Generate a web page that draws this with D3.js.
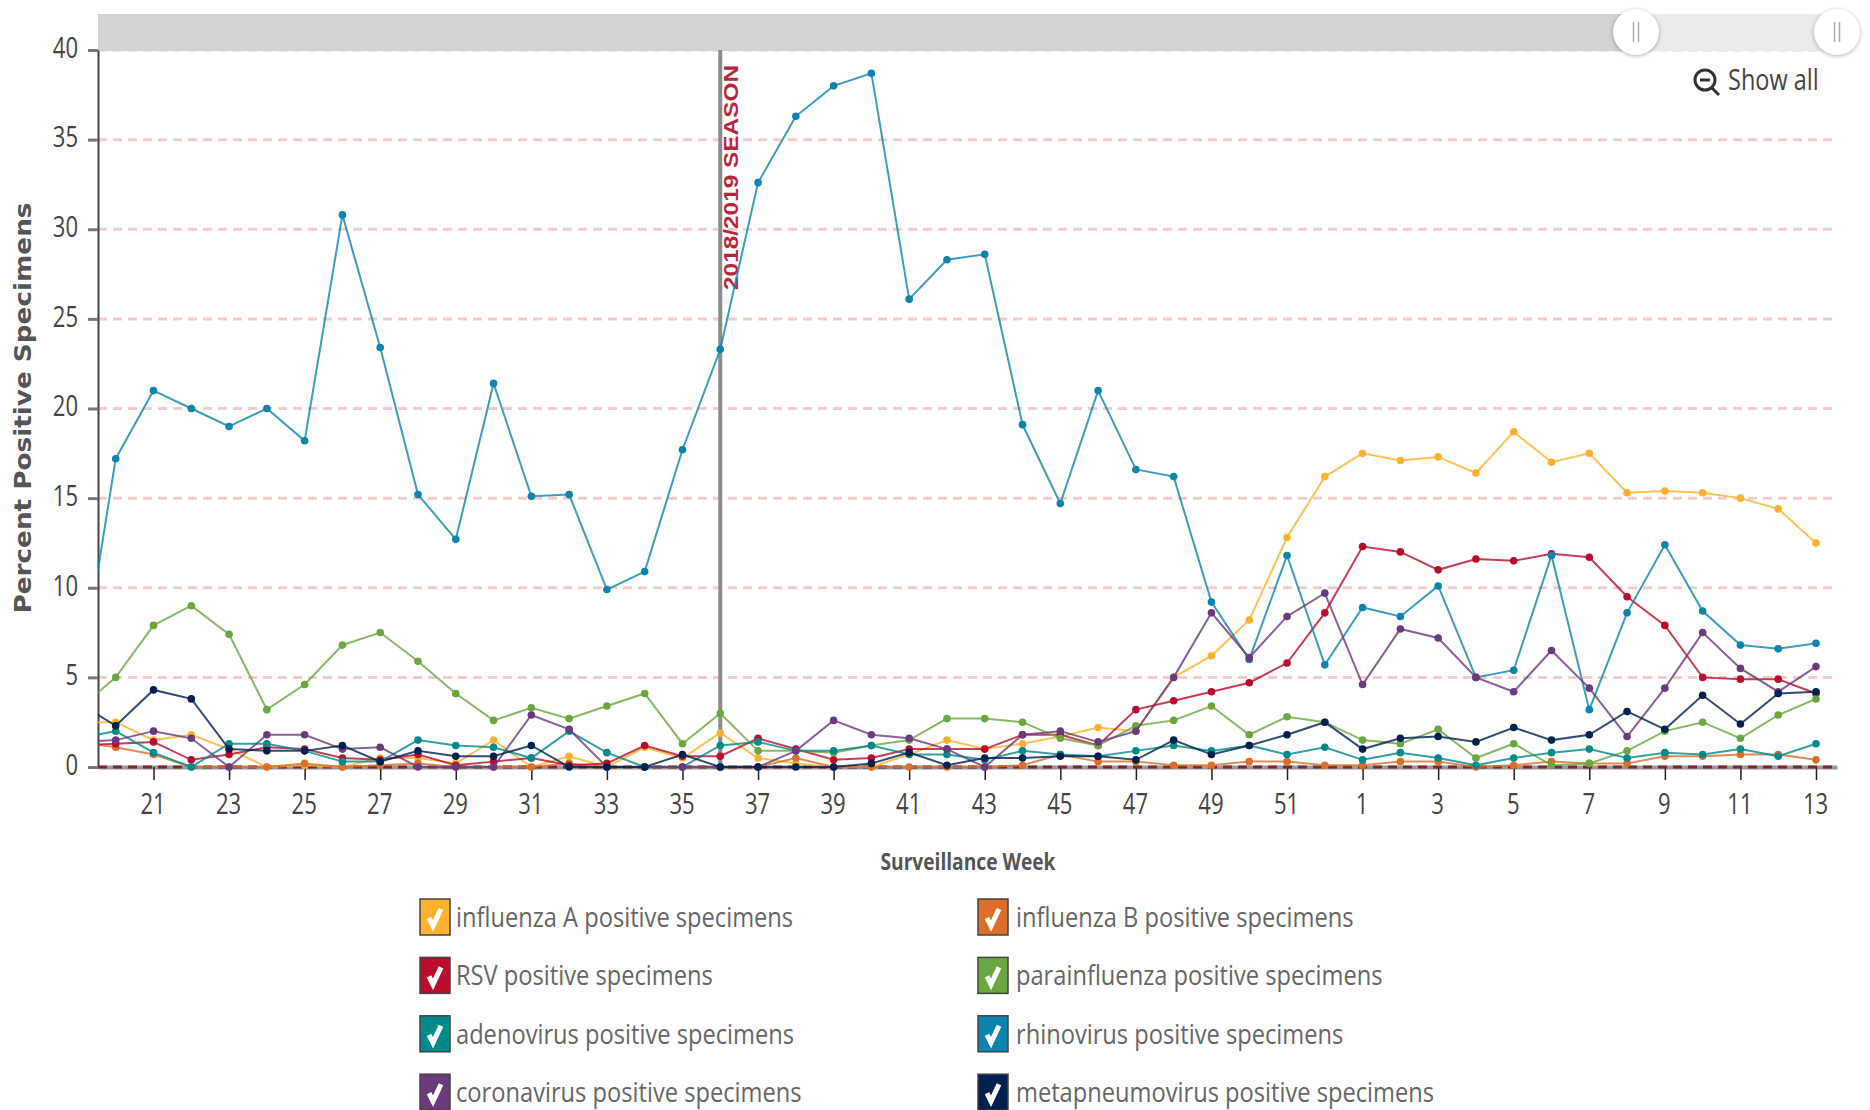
<!DOCTYPE html>
<html lang="en">

<head>
    <meta charset="UTF-8">
    <title>Percent Positive Specimens by Surveillance Week</title>
    <script src="https://d3js.org/d3.v7.min.js"></script>
    <style>
        body {
            margin: 0;
            background: white;
            font-family: "Open Sans", sans-serif;
        }

        svg {
            display: block;
        }

        .axis text {
            font-family: "Open Sans", sans-serif;
            font-size: 29px;
            fill: #444;
        }

        .series path {
            fill: none;
            stroke-width: 2px;
            stroke-opacity: 0.8;
        }

        .handle {
            filter: drop-shadow(0 1px 2px rgba(0, 0, 0, 0.3));
        }
    </style>
</head>

<body>
    <div id="chart"></div>
    <script>
        // Weeks from 19 of one year to 13 of the next
        var weeks = [19, 20, 21, 22, 23, 24, 25, 26, 27, 28, 29, 30, 31, 32, 33, 34, 35, 36, 37, 38, 39, 40, 41, 42, 43, 44, 45, 46, 47, 48, 49, 50, 51, 52, 1, 2, 3, 4, 5, 6, 7, 8, 9, 10, 11, 12, 13];
        var yTicks = [0, 5, 10, 15, 20, 25, 30, 35, 40];

        var influenzaA = [2.5, 2.5, 1.5, 1.8, 1.0, 0, 0.1, 0, 0.5, 0.5, 0.2, 1.5, 0, 0.6, 0, 1.1, 0.5, 1.9, 0.5, 0.2, 0, 0, 0.7, 1.5, 1.0, 1.3, 1.7, 2.2, 2.0, 5.0, 6.2, 8.2, 12.8, 16.2, 17.5, 17.1, 17.3, 16.4, 18.7, 17.0, 17.5, 15.3, 15.4, 15.3, 15.0, 14.4, 12.5];
        var influenzaB = [1.4, 1.1, 0.7, 0, 0, 0, 0.2, 0, 0.1, 0.2, 0, 0, 0, 0.2, 0, 0, 0, 0, 0, 0.5, 0, 0, 0, 0, 0, 0.1, 0.7, 0.3, 0.3, 0.1, 0.1, 0.3, 0.3, 0.1, 0.1, 0.3, 0.3, 0, 0.1, 0.3, 0.2, 0.2, 0.6, 0.6, 0.7, 0.7, 0.4];
        var rsv = [1.2, 1.3, 1.4, 0.4, 0.7, 1.1, 1.0, 0.5, 0.4, 0.7, 0.1, 0.3, 0.5, 0.1, 0.2, 1.2, 0.6, 0.6, 1.6, 1.0, 0.4, 0.5, 1.0, 1.0, 1.0, 1.8, 1.8, 1.2, 3.2, 3.7, 4.2, 4.7, 5.8, 8.6, 12.3, 12.0, 11.0, 11.6, 11.5, 11.9, 11.7, 9.5, 7.9, 5.0, 4.9, 4.9, 4.1];
        var parainfluenza = [3.2, 5.0, 7.9, 9.0, 7.4, 3.2, 4.6, 6.8, 7.5, 5.9, 4.1, 2.6, 3.3, 2.7, 3.4, 4.1, 1.3, 3.0, 0.9, 0.9, 0.8, 1.2, 1.5, 2.7, 2.7, 2.5, 1.6, 1.2, 2.3, 2.6, 3.4, 1.8, 2.8, 2.5, 1.5, 1.3, 2.1, 0.5, 1.3, 0.1, 0.2, 0.9, 2.0, 2.5, 1.6, 2.9, 3.8];
        var adenovirus = [1.6, 2.0, 0.8, 0, 1.3, 1.3, 0.9, 0.3, 0.3, 1.5, 1.2, 1.1, 0.5, 2.0, 0.8, 0, 0, 1.2, 1.4, 0.9, 0.9, 1.2, 0.7, 0.7, 0.4, 0.9, 0.7, 0.6, 0.9, 1.2, 0.9, 1.2, 0.7, 1.1, 0.4, 0.8, 0.5, 0.1, 0.5, 0.8, 1.0, 0.5, 0.8, 0.7, 1.0, 0.6, 1.3];
        var rhinovirus = [4.0, 17.2, 21.0, 20.0, 19.0, 20.0, 18.2, 30.8, 23.4, 15.2, 12.7, 21.4, 15.1, 15.2, 9.9, 10.9, 17.7, 23.3, 32.6, 36.3, 38.0, 38.7, 26.1, 28.3, 28.6, 19.1, 14.7, 21.0, 16.6, 16.2, 9.2, 6.0, 11.8, 5.7, 8.9, 8.4, 10.1, 5.0, 5.4, 11.8, 3.2, 8.6, 12.4, 8.7, 6.8, 6.6, 6.9];
        var coronavirus = [1.4, 1.5, 2.0, 1.6, 0, 1.8, 1.8, 1.0, 1.1, 0, 0, 0, 2.9, 2.1, 0, 0, 0, 0, 0, 0.9, 2.6, 1.8, 1.6, 1.0, 0, 1.8, 2.0, 1.4, 2.0, 5.0, 8.6, 6.1, 8.4, 9.7, 4.6, 7.7, 7.2, 5.0, 4.2, 6.5, 4.4, 1.7, 4.4, 7.5, 5.5, 4.2, 5.6];
        var metapneumovirus = [3.6, 2.3, 4.3, 3.8, 1.0, 0.9, 0.9, 1.2, 0.3, 0.9, 0.6, 0.6, 1.2, 0, 0, 0, 0.7, 0, 0, 0, 0, 0.2, 0.8, 0.1, 0.5, 0.5, 0.6, 0.6, 0.4, 1.5, 0.7, 1.2, 1.8, 2.5, 1.0, 1.6, 1.7, 1.4, 2.2, 1.5, 1.8, 3.1, 2.1, 4.0, 2.4, 4.1, 4.2];

        var seriesNames = ["influenza A positive specimens", "influenza B positive specimens", "RSV positive specimens", "parainfluenza positive specimens", "adenovirus positive specimens", "rhinovirus positive specimens", "coronavirus positive specimens", "metapneumovirus positive specimens"];
        var seriesValues = [influenzaA, influenzaB, rsv, parainfluenza, adenovirus, rhinovirus, coronavirus, metapneumovirus];
        var seriesColors = ["#fdb12c", "#dc6e2a", "#bb0c2c", "#6ca63e", "#008a8a", "#0d84ad", "#6b3a7d", "#00204f"];

        var seasonWeekIndex = weeks.indexOf(36);

        var width = 1870, height = 1110;
        var plotLeft = 98, plotRight = 1837, plotTop = 50, plotBottom = 767;

        var svg = d3.select("#chart").append("svg")
            .attr("width", width)
            .attr("height", height);

        // The view is zoomed in, so the first week sits left of the axis and gets clipped
        var xScale = d3.scaleLinear().domain([0.531, 46.556]).range([plotLeft, plotRight]);
        var yScale = d3.scaleLinear().domain([0, 40]).range([plotBottom, plotTop]);

        // The reference text is narrower than the font, so squeeze it horizontally
        function squeeze(selection, ratio) {
            selection.each(function () {
                d3.select(this)
                    .attr("textLength", this.getComputedTextLength() * ratio)
                    .attr("lengthAdjust", "spacingAndGlyphs");
            });
        }

        svg.append("defs").append("clipPath").attr("id", "plot-clip")
            .append("rect")
            .attr("x", plotLeft)
            .attr("y", plotTop - 10)
            .attr("width", plotRight - plotLeft)
            .attr("height", plotBottom - plotTop + 30);

        // Grid lines
        svg.append("g").selectAll("line")
            .data(yTicks.slice(1))
            .enter().append("line")
            .attr("x1", plotLeft)
            .attr("x2", plotRight)
            .attr("y1", d => yScale(d))
            .attr("y2", d => yScale(d))
            .attr("stroke", "#f2cccc")
            .attr("stroke-width", 3)
            .attr("stroke-dasharray", "9 6");

        // Range selector along the top
        svg.append("rect").attr("x", plotLeft).attr("y", 14).attr("width", 1636 - plotLeft).attr("height", 37).attr("fill", "#d3d3d3");
        svg.append("rect").attr("x", 1636).attr("y", 14).attr("width", plotRight - 1636).attr("height", 37).attr("fill", "#ebebeb");

        // Axes
        var xAxis = d3.axisBottom(xScale)
            .tickValues(weeks.map((w, i) => i).filter(i => i >= 2 && i % 2 === 0))
            .tickFormat(i => weeks[i])
            .tickSize(13)
            .tickSizeOuter(0)
            .tickPadding(13);
        var yAxis = d3.axisLeft(yScale)
            .tickValues(yTicks)
            .tickSize(10)
            .tickSizeOuter(0)
            .tickPadding(10);

        var xGroup = svg.append("g").attr("class", "axis").attr("transform", `translate(0,${plotBottom})`).call(xAxis);
        var yGroup = svg.append("g").attr("class", "axis").attr("transform", `translate(${plotLeft},0)`).call(yAxis);

        xGroup.select(".domain").attr("stroke", "#999").attr("stroke-width", 4);
        xGroup.selectAll("line").attr("stroke", "#222").attr("stroke-width", 1.5);
        yGroup.select(".domain").attr("stroke", "#444").attr("stroke-width", 2);
        yGroup.selectAll("line").attr("stroke", "#777").attr("stroke-width", 3);
        xGroup.selectAll("text").attr("dx", "-1").call(squeeze, 0.76);
        yGroup.selectAll("text").attr("y", -2).call(squeeze, 0.76);

        // Zero line dashes sit on the axis
        svg.append("line")
            .attr("x1", plotLeft)
            .attr("x2", plotRight)
            .attr("y1", yScale(0))
            .attr("y2", yScale(0))
            .attr("stroke", "#7a2a2a")
            .attr("stroke-width", 3)
            .attr("stroke-dasharray", "9 6");

        // Season marker
        svg.append("line")
            .attr("x1", xScale(seasonWeekIndex))
            .attr("x2", xScale(seasonWeekIndex))
            .attr("y1", plotTop)
            .attr("y2", plotBottom)
            .attr("stroke", "#8c8c8c")
            .attr("stroke-width", 4);

        svg.append("text")
            .attr("transform", `translate(${xScale(seasonWeekIndex) + 18},65) rotate(-90)`)
            .attr("text-anchor", "end")
            .attr("font-family", "Liberation Sans")
            .attr("font-weight", "bold")
            .attr("font-size", 20)
            .attr("fill", "#b8283c")
            .text("2018/2019 SEASON")
            .attr("textLength", 225)
            .attr("lengthAdjust", "spacingAndGlyphs");

        // Series lines and points
        var line = d3.line()
            .x((d, i) => xScale(i))
            .y(d => yScale(d));

        var series = svg.append("g").attr("clip-path", "url(#plot-clip)")
            .selectAll("g")
            .data(seriesValues)
            .enter().append("g")
            .attr("class", "series");

        series.append("path")
            .attr("d", line)
            .attr("stroke", (d, i) => seriesColors[i]);

        series.each(function (values, s) {
            d3.select(this).selectAll("circle")
                .data(values)
                .enter().append("circle")
                .attr("cx", (d, i) => xScale(i))
                .attr("cy", d => yScale(d))
                .attr("r", 3.8)
                .attr("fill", seriesColors[s]);
        });

        // Range selector handles
        var handles = svg.append("g").selectAll("g")
            .data([1636, 1837])
            .enter().append("g")
            .attr("class", "handle")
            .attr("transform", d => `translate(${d},32)`);
        handles.append("circle").attr("r", 23).attr("fill", "white");
        handles.selectAll("line")
            .data([-2.5, 2.5])
            .enter().append("line")
            .attr("x1", d => d)
            .attr("x2", d => d)
            .attr("y1", -10)
            .attr("y2", 10)
            .attr("stroke", "#aaa")
            .attr("stroke-width", 1.5);

        // Show all control
        var zoomIcon = svg.append("g")
            .attr("transform", "translate(1705,80)")
            .attr("fill", "none")
            .attr("stroke", "#333")
            .attr("stroke-width", 3);
        zoomIcon.append("circle").attr("r", 10);
        zoomIcon.append("path").attr("d", "M-5,0H5M7,8L14,15");

        svg.append("text")
            .attr("x", 1728)
            .attr("y", 90)
            .attr("font-size", 29)
            .attr("fill", "#444")
            .text("Show all")
            .call(squeeze, 0.81);

        // Axis titles
        svg.append("text")
            .attr("x", 968)
            .attr("y", 870)
            .attr("text-anchor", "middle")
            .attr("font-weight", "bold")
            .attr("font-size", 24)
            .attr("fill", "#555")
            .text("Surveillance Week")
            .attr("textLength", 175)
            .attr("lengthAdjust", "spacingAndGlyphs");

        svg.append("text")
            .attr("transform", "translate(31,408) rotate(-90)")
            .attr("text-anchor", "middle")
            .attr("font-family", "DejaVu Sans")
            .attr("font-weight", "bold")
            .attr("font-size", 23)
            .attr("fill", "#555")
            .text("Percent Positive Specimens")
            .attr("textLength", 411)
            .attr("lengthAdjust", "spacingAndGlyphs");

        // Legend, two columns
        var legend = svg.append("g").selectAll("g")
            .data(seriesNames)
            .enter().append("g")
            .attr("transform", (d, i) => `translate(${i % 2 === 0 ? 420 : 978},${917 + Math.floor(i / 2) * 58.4})`);

        legend.append("rect")
            .attr("y", -18)
            .attr("width", 30)
            .attr("height", 36)
            .attr("fill", (d, i) => seriesColors[i])
            .attr("stroke", "#444")
            .attr("stroke-width", 1.5);

        legend.append("path")
            .attr("d", "M9,1L13,9L21,-8")
            .attr("fill", "none")
            .attr("stroke", "white")
            .attr("stroke-width", 5);

        legend.append("text")
            .attr("x", (d, i) => i % 2 === 0 ? 36 : 38)
            .attr("y", 10)
            .attr("font-size", 28)
            .attr("fill", "#666")
            .text(d => d)
            .call(squeeze, 0.845);
    </script>
</body>

</html>
